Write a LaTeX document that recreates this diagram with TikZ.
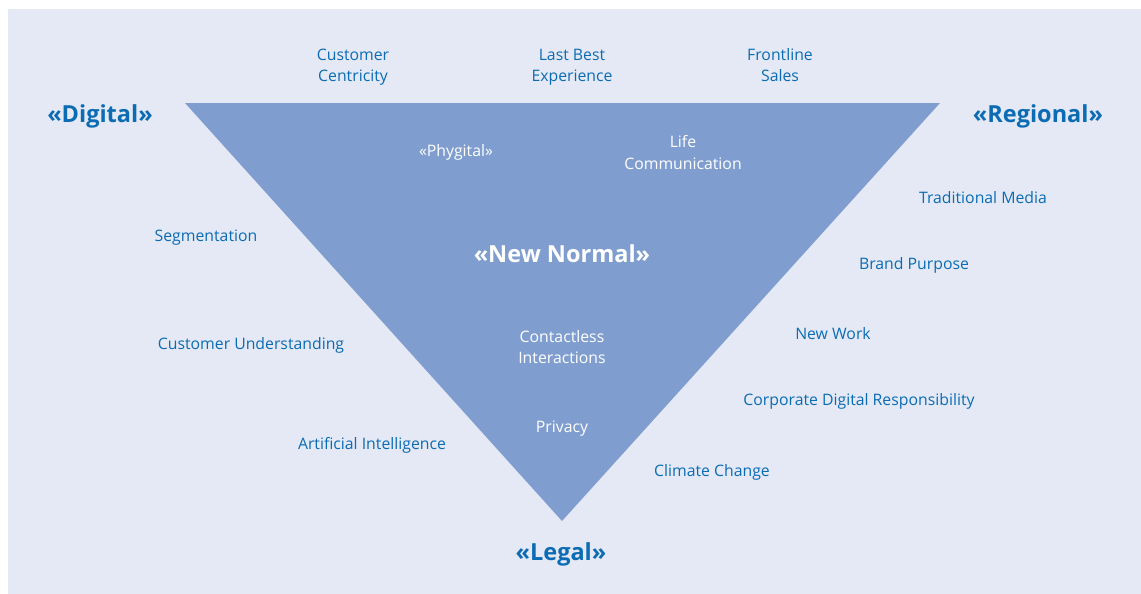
\documentclass[tikz,border=0pt]{standalone}
\usepackage{fontspec}
\setmainfont{Open Sans}
\definecolor{bgc}{HTML}{E5E9F5}
\definecolor{tri}{HTML}{7F9ECF}
\definecolor{txtblue}{HTML}{0B6CB4}
\begin{document}
\begin{tikzpicture}[x=1pt,y=-1pt,
  item/.style={text=txtblue,align=center,inner sep=0pt,font=\fontsize{15.8}{21.5}\selectfont},
  inner/.style={text=white,align=center,inner sep=0pt,font=\fontsize{15.8}{21.5}\selectfont},
  corner/.style={text=txtblue,inner sep=0pt,font=\fontsize{23.5}{27}\selectfont\bfseries},
  title/.style={text=white,inner sep=0pt,font=\fontsize{23.5}{27}\selectfont\bfseries}]
\useasboundingbox (0,0) rectangle (1141,594);
% background panel
\fill[bgc] (8,9) rectangle (1141,594);
% central funnel
\fill[tri] (185,103) -- (940,103) -- (562,521) -- cycle;

% top row
\node[item] (cc) at (353,67) {Customer\\Centricity};
\node[item] (lbe) at (572,67.5) {Last Best\\Experience};
\node[item] (fs) at (780,65) {Frontline\\Sales};

% corners
\node[corner] (dig) at (100,116) {«Digital»};
\node[corner] (reg) at (1038,116) {«Regional»};
\node[corner] (leg) at (561,554) {«Legal»};

% inside the funnel
\node[inner] (phy) at (456,152.5) {«Phygital»};
\node[inner] (life) at (683,152.5) {Life\\Communication};
\node[title] (nn) at (562,254) {«New Normal»};
\node[inner] (ci) at (562,347) {Contactless\\Interactions};
\node[inner] (priv) at (562,428.5) {Privacy};

% left side
\node[item] (seg) at (206,237.5) {Segmentation};
\node[item] (cu) at (251,345.5) {Customer Understanding};
\node[item] (ai) at (372,445.5) {Artificial Intelligence};

% right side
\node[item] (tm) at (983,197.5) {Traditional Media};
\node[item] (bp) at (914,265.5) {Brand Purpose};
\node[item] (nw) at (833,333.5) {New Work};
\node[item] (cdr) at (859,401.5) {Corporate Digital Responsibility};
\node[item] (clc) at (712,472.5) {Climate Change};
\end{tikzpicture}
\end{document}
